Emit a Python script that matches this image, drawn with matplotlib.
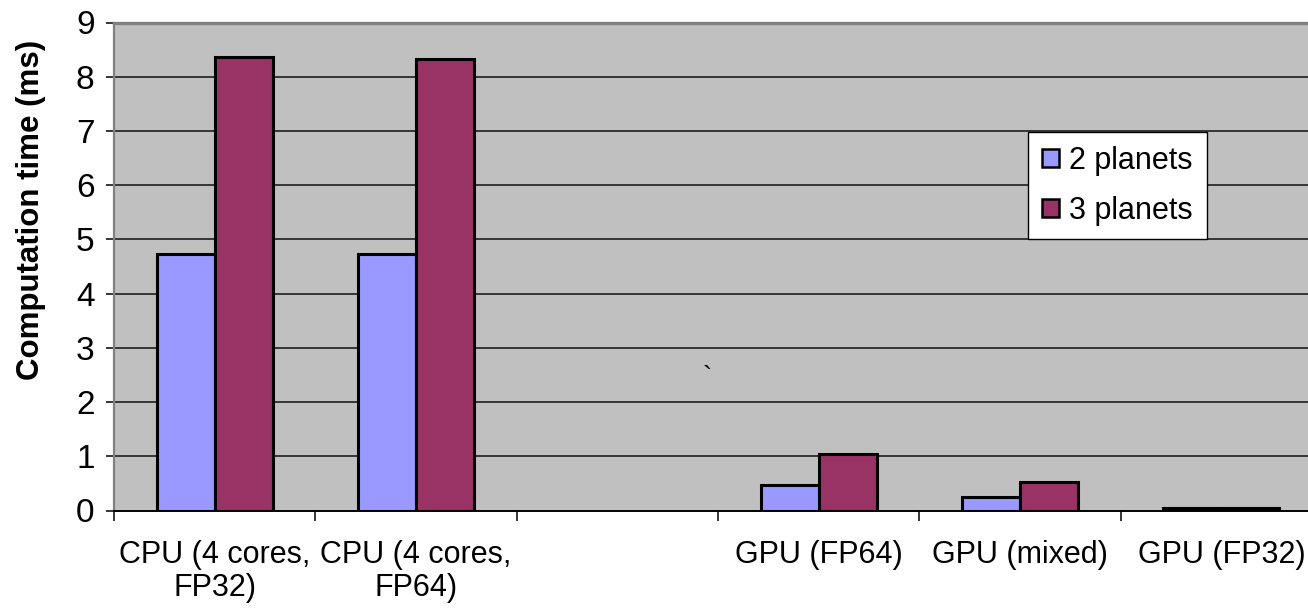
import numpy as np
import matplotlib
matplotlib.use("Agg")
import matplotlib.pyplot as plt

plt.rcParams["font.family"] = ["Liberation Sans", "DejaVu Sans"]

categories = ["CPU (4 cores,\nFP32)", "CPU (4 cores,\nFP64)", "",
              "GPU (FP64)", "GPU (mixed)", "GPU (FP32)"]
series_names = ["2 planets", "3 planets"]
two_planets = [4.73, 4.73, np.nan, 0.47, 0.25, 0.04]
three_planets = [8.37, 8.33, np.nan, 1.04, 0.52, 0.05]
y_ticks = [0, 1, 2, 3, 4, 5, 6, 7, 8, 9]

W, H = 1308, 611
fig = plt.figure(figsize=(W / 100, H / 100), dpi=100)
left, right, top, bottom = 114, 1322, 22.5, 510.5
ax = fig.add_axes([left / W, 1 - bottom / H, (right - left) / W, (bottom - top) / H])
ax.set_facecolor("#C0C0C0")

x = np.arange(len(categories))
bw = 0.288
ax.bar(x - bw / 2, two_planets, width=bw, color="#9999FF", edgecolor="black",
       linewidth=2.2, label=series_names[0], zorder=3)
ax.bar(x + bw / 2, three_planets, width=bw, color="#993366", edgecolor="black",
       linewidth=2.2, label=series_names[1], zorder=3)

ax.set_xlim(-0.5, len(categories) - 0.5)
ax.set_ylim(0, 9)
ax.set_yticks(y_ticks)
ax.set_yticklabels([str(t) for t in y_ticks], fontsize=24)
for t in y_ticks[1:-1]:
    ax.axhline(t, color="#111111", linewidth=1.1, zorder=1)

ax.set_xticks(x)
ax.set_xticklabels(categories, fontsize=22, linespacing=1.15)
ax.set_xticks(np.arange(len(categories) + 1) - 0.5, minor=True)
ax.tick_params(axis="x", which="major", length=0, pad=21)
ax.tick_params(axis="x", which="minor", length=7, width=1.1, color="black")
ax.tick_params(axis="y", length=6, width=1.1, color="black", pad=8)

ax.spines["top"].set_color("#808080")
ax.spines["top"].set_linewidth(2.4)
ax.spines["left"].set_color("#808080")
ax.spines["left"].set_linewidth(1.6)
ax.spines["right"].set_visible(False)
ax.spines["bottom"].set_color("black")
ax.spines["bottom"].set_linewidth(1.4)

fig.text(31 / W, 1 - 210 / H, "Computation time (ms)", rotation=90,
         fontsize=22.5, fontweight="bold", ha="center", va="center")

leg = ax.legend(loc="upper left", bbox_to_anchor=(1028 / W, 1 - 132 / H),
                bbox_transform=fig.transFigure, borderaxespad=0, fontsize=22,
                frameon=True, fancybox=False, edgecolor="black", facecolor="white",
                framealpha=1, handlelength=0.55, handleheight=0.55,
                handletextpad=0.35, labelspacing=0.65, borderpad=0.45)
leg.get_frame().set_linewidth(1.0)
for h in leg.legend_handles:
    h.set_linewidth(1.8)

fig.text(707 / W, 1 - 378 / H, "`", fontsize=20, ha="center", va="center")

fig.savefig("out.png", dpi=100)
